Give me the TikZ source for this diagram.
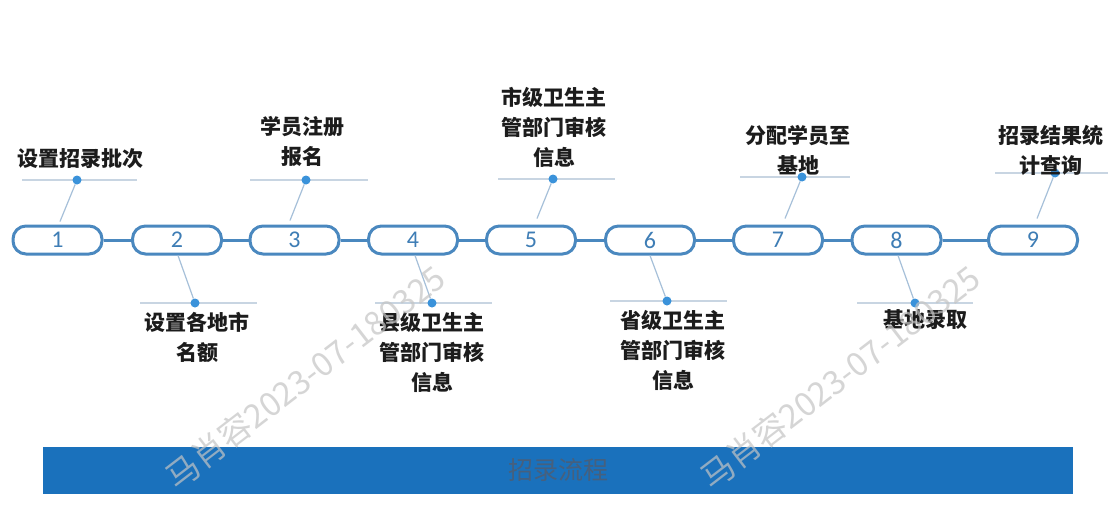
\documentclass[tikz,border=0pt]{standalone}
\usepackage{fontspec}
\setmainfont{Liberation Sans}
\newfontfamily\cjk{Noto Sans CJK SC}
\newfontfamily\numfont{Carlito}
\usetikzlibrary{calc}
\definecolor{capblue}{HTML}{4A88BF}
\definecolor{numblue}{HTML}{3E7DB5}
\definecolor{hline}{HTML}{C8D5E2}
\definecolor{slant}{HTML}{A6C0D9}
\definecolor{dotblue}{HTML}{3A92DA}
\definecolor{barblue}{HTML}{1A71BC}
\definecolor{bartext}{HTML}{46607E}
\definecolor{txt}{HTML}{1C1C1C}
\definecolor{wm}{HTML}{C4C4C4}
\begin{document}
\begin{tikzpicture}[x=1pt,y=-1pt,
  capsule/.style={draw=capblue,line width=3pt,rounded corners=13pt,minimum width=89pt,minimum height=28pt,inner sep=0pt,text=numblue,font=\numfont\fontsize{24}{24}\selectfont},
  link/.style={capblue,line width=3pt},
  hl/.style={hline,line width=1.6pt},
  sl/.style={slant,line width=1.2pt},
  dot/.style={circle,fill=dotblue,inner sep=0pt,minimum size=9pt},
  lbl/.style={font=\cjk\bfseries\fontsize{21}{30}\selectfont,align=center,text=txt,inner sep=0pt},
  wmark/.style={font=\cjk\fontsize{33}{33}\selectfont,text=wm,opacity=0.7,rotate=37.5,inner sep=0pt}]
\useasboundingbox (0,0) rectangle (1110,522);
\fill[white] (0,0) rectangle (1110,522);

% capsules
\node[capsule] (c1) at (57.5,240) {1};
\node[capsule] (c2) at (177,240) {2};
\node[capsule] (c3) at (294.5,240) {3};
\node[capsule] (c4) at (413,240) {4};
\node[capsule] (c5) at (531,240) {5};
\node[capsule] (c6) at (650,240) {6};
\node[capsule] (c7) at (778,240) {7};
\node[capsule] (c8) at (896.5,240) {8};
\node[capsule] (c9) at (1033,240) {9};
\foreach \a/\b in {c1/c2,c2/c3,c3/c4,c4/c5,c5/c6,c6/c7,c7/c8,c8/c9}
  \draw[link] (\a) -- (\b);

% top leaders
\coordinate (h1a) at (22,180);  \coordinate (h1b) at (137,180);
\coordinate (h3a) at (250,180); \coordinate (h3b) at (368,180);
\coordinate (h5a) at (498,179); \coordinate (h5b) at (615,179);
\coordinate (h7a) at (740,177); \coordinate (h7b) at (850,177);
\coordinate (h9a) at (995,173); \coordinate (h9b) at (1108,173);
\foreach \i in {1,3,5,7,9} \draw[hl] (h\i a) -- (h\i b);
\node[dot] (d1) at (77,180) {};
\node[dot] (d3) at (306,180) {};
\node[dot] (d5) at (553,179) {};
\node[dot] (d7) at (802,177) {};
\node[dot] (d9) at (1055,173) {};
\draw[sl] (d1) -- ($(c1.north)+(2.5,-3)$);
\draw[sl] (d3) -- ($(c3.north)+(-4.5,-4)$);
\draw[sl] (d5) -- ($(c5.north)+(6,-6)$);
\draw[sl] (d7) -- ($(c7.north)+(7,-6)$);
\draw[sl] (d9) -- ($(c9.north)+(4,-6)$);

% bottom leaders
\coordinate (h2a) at (140,303); \coordinate (h2b) at (257,303);
\coordinate (h4a) at (375,303); \coordinate (h4b) at (492,303);
\coordinate (h6a) at (610,301); \coordinate (h6b) at (727,301);
\coordinate (h8a) at (857,303); \coordinate (h8b) at (973,303);
\foreach \i in {2,4,6,8} \draw[hl] (h\i a) -- (h\i b);
\node[dot] (d2) at (195,303) {};
\node[dot] (d4) at (432,303) {};
\node[dot] (d6) at (667,301) {};
\node[dot] (d8) at (915,303) {};
\draw[sl] ($(c2.south)+(1,0)$) -- (d2);
\draw[sl] ($(c4.south)+(2,0)$) -- (d4);
\draw[sl] ($(c6.south)+(0,0)$) -- (d6);
\draw[sl] ($(c8.south)+(1.5,0)$) -- (d8);

% labels
\node[lbl] (l1) at (80,159) {设置招录批次};
\node[lbl] (l3) at (302,141) {学员注册\\报名};
\node[lbl] (l5) at (554,127) {市级卫生主\\管部门审核\\信息};
\node[lbl] (l7) at (798,150) {分配学员至\\基地};
\node[lbl] (l9) at (1051,150) {招录结果统\\计查询};
\node[lbl] (l2) at (197,337) {设置各地市\\名额};
\node[lbl] (l4) at (432,352) {县级卫生主\\管部门审核\\信息};
\node[lbl] (l6) at (673,350) {省级卫生主\\管部门审核\\信息};
\node[lbl] (l8) at (925,320) {基地录取};

% bottom bar
\node[fill=barblue,minimum width=1030pt,minimum height=47pt,inner sep=0pt] (bar) at (558,470.5) {};
\node[font=\cjk\fontsize{25}{25}\selectfont,text=bartext] (bt) at (bar.center) {招录流程};

% watermarks
\node[wmark] (w1) at (305,377) {马肖容2023-07-180325};
\node[wmark] (w2) at (840,377) {马肖容2023-07-180325};
\end{tikzpicture}
\end{document}
